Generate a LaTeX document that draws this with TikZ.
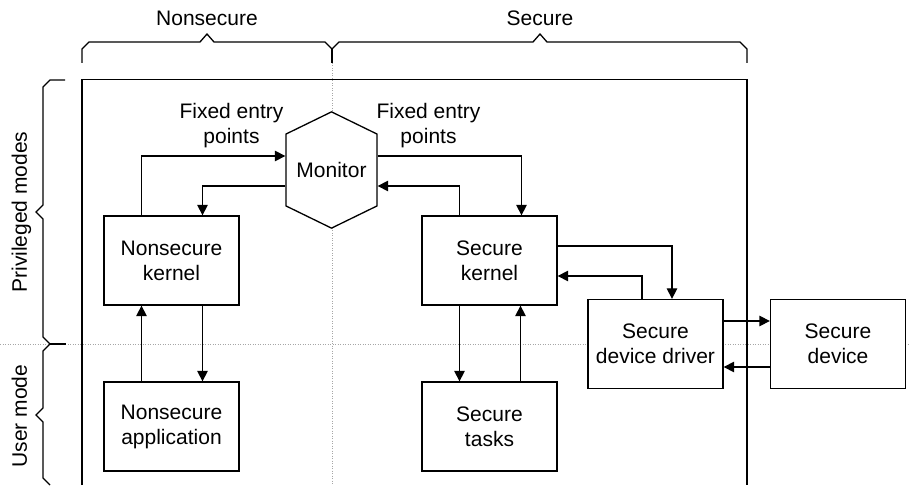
\documentclass[tikz,border=0pt]{standalone}
\usepackage{fontspec}
\setmainfont{Liberation Sans}
\usetikzlibrary{arrows.meta,positioning,calc,shapes.symbols}

\begin{document}
\begin{tikzpicture}[
    x=1pt, y=1pt,
    node distance=166pt,
    font=\fontsize{21}{25}\selectfont,
    >={Triangle[length=10.5pt,width=10.5pt]},
    line width=1.3pt,
    box/.style={rectangle, draw, fill=white, minimum width=135pt, minimum height=89pt, align=center, inner sep=2pt},
    mon/.style={signal, signal to=north and south, signal pointer angle=128, draw, fill=white, minimum width=91pt, minimum height=108pt, inner sep=2pt},
    grid/.style={draw=gray!70, line width=0.8pt, dash pattern=on 1pt off 1.5pt},
    note/.style={align=center, inner sep=0pt}
]
\useasboundingbox (0,0) rectangle (910,485);

% Dotted partitions
\draw[grid] (0,141) -- (910,141);
\draw[grid] (332,422) -- (332,0);

% Frame, open at the bottom
\draw (82,0) -- (82,405.5) -- (747,405.5) -- (747,0);

% Top braces
\draw (82,422) -- (82,436) -- (89,443) -- (200,443) -- (207,451) -- (214,443) -- (325,443) -- (332,436) -- (339,443)
      -- (533,443) -- (540,451) -- (547,443) -- (740,443) -- (747,436) -- (747,422);
\draw (332,436) -- (332,422);

% Left braces
\draw (65,405) -- (50,405) -- (43,398) -- (43,280) -- (36,273) -- (43,266) -- (43,148) -- (50,141)
      -- (43,134) -- (43,77) -- (36,70) -- (43,63) -- (43,7) -- (50,0);
\draw (50,141) -- (66,141);

% Brace labels
\node[anchor=base] (nslabel) at (207,459) {Nonsecure};
\node[anchor=base] (slabel) at (540,459) {Secure};
\node[rotate=90, anchor=base] (privlabel) at (27,273) {Privileged modes};
\node[rotate=90, anchor=base] (userlabel) at (27,69) {User mode};

% Monitor
\node[mon] (monitor) at (331.5,315) {Monitor};

% Kernels and what sits below them
\node[box] (nskernel) at (171.5,224.5) {Nonsecure\\kernel};
\node[box, right of=nskernel, node distance=318pt] (skernel) {Secure\\kernel};
\node[box, below of=nskernel] (nsapp) {Nonsecure\\application};
\node[box, below of=skernel] (stasks) {Secure\\tasks};

% Device side
\node[box] (driver) at (655.5,141) {Secure\\device driver};
\node[box, right of=driver, node distance=182.5pt] (device) {Secure\\device};

% Entry point labels
\node[note] (nsentry) at (231.5,359.5) {Fixed entry\\points};
\node[note] (sentry) at (428.5,359.5) {Fixed entry\\points};

% Arrows - monitor
\draw[->] ([xshift=-30pt]nskernel.north) |- ([yshift=14pt]monitor.west);
\draw[->] ([yshift=-16pt]monitor.west) -| ([xshift=31pt]nskernel.north);
\draw[->] ([yshift=14pt]monitor.east) -| ([xshift=32pt]skernel.north);
\draw[->] ([xshift=-30pt]skernel.north) |- ([yshift=-16pt]monitor.east);

% Arrows - kernel and user mode
\draw[->] ([xshift=-30pt]nsapp.north) -- ([xshift=-30pt]nskernel.south);
\draw[->] ([xshift=31pt]nskernel.south) -- ([xshift=31pt]nsapp.north);
\draw[->] ([xshift=-30pt]skernel.south) -- ([xshift=-30pt]stasks.north);
\draw[->] ([xshift=31pt]stasks.north) -- ([xshift=31pt]skernel.south);

% Arrows - driver and device
\draw[->] ([yshift=14.5pt]skernel.east) -| ([xshift=16.5pt]driver.north);
\draw[->] ([xshift=-13.5pt]driver.north) |- ([yshift=-15.5pt]skernel.east);
\draw[->] ([yshift=23pt]driver.east) -- ([yshift=23pt]device.west);
\draw[->] ([yshift=-23pt]device.west) -- ([yshift=-23pt]driver.east);

\end{tikzpicture}
\end{document}
